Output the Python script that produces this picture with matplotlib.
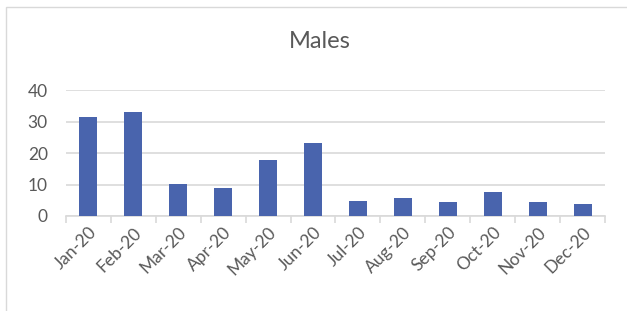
import matplotlib.pyplot as plt
from matplotlib.patches import Rectangle

months = ["Jan-20", "Feb-20", "Mar-20", "Apr-20", "May-20", "Jun-20",
          "Jul-20", "Aug-20", "Sep-20", "Oct-20", "Nov-20", "Dec-20"]
males = [31.3, 32.9, 10.2, 8.8, 17.8, 23.1, 4.7, 5.6, 4.4, 7.5, 4.3, 3.7]
yticks = [0, 10, 20, 30, 40]

plt.rcParams['font.family'] = ['Lato', 'DejaVu Sans']
grey = '#595959'
grid = '#d9d9d9'

fig = plt.figure(figsize=(6.27, 3.11), dpi=100)
ax = fig.add_axes([0.105, 0.3055, 0.86, 0.405])

x = range(len(months))
ax.bar(x, males, width=0.4, color='#4964ad', zorder=3)

ax.set_xlim(-0.5, len(months) - 0.5)
ax.set_ylim(0, 40)
ax.set_yticks(yticks)
ax.set_yticklabels([str(t) for t in yticks], fontsize=12.5, color=grey)
ax.yaxis.grid(True, color=grid, lw=1.2, zorder=0)
ax.tick_params(axis='y', length=0, pad=13)

# category boundary tick marks
ax.set_xticks([i - 0.5 for i in range(len(months) + 1)], minor=False)
ax.set_xticklabels([])
ax.tick_params(axis='x', which='major', length=5, color=grid, width=1.2)
ax.set_xticks(list(x), minor=True)
ax.set_xticklabels(months, minor=True, rotation=45, ha='right',
                   rotation_mode='anchor', fontsize=12.5, color=grey)
ax.tick_params(axis='x', which='minor', length=0, pad=6)

for s in ['top', 'right', 'left']:
    ax.spines[s].set_visible(False)
ax.spines['bottom'].set_color(grid)
ax.spines['bottom'].set_linewidth(1.2)

fig.text(320 / 627, 1 - 42 / 311, "Males", ha='center', va='center',
         fontsize=17, color=grey)

# chart border
fig.patches.append(Rectangle((6 / 627, -0.1), 1.1, 1 - 7 / 311 + 0.1,
                             transform=fig.transFigure, fill=False,
                             edgecolor='#d9d9d9', lw=1))

fig.savefig("out.png", dpi=100)
